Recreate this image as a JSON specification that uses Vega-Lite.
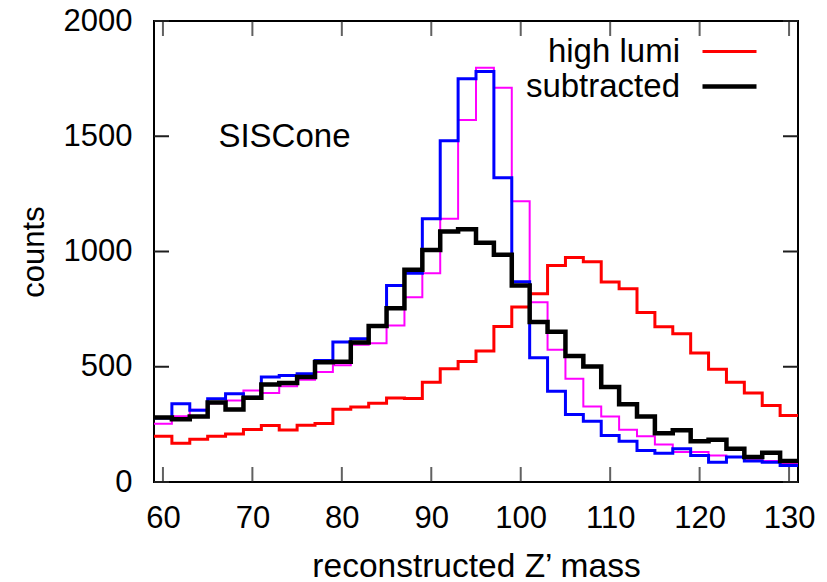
{
  "$schema": "https://vega.github.io/schema/vega-lite/v6.json",
  "width": 644,
  "height": 461,
  "autosize": {"type": "none"},
  "padding": {"left": 154, "top": 21, "right": 29, "bottom": 100},
  "background": "white",
  "config": {
    "view": {"stroke": "black", "strokeWidth": 2},
    "font": "Liberation Sans",
    "axis": {
      "grid": false,
      "domain": false,
      "labelFont": "Liberation Sans",
      "labelFontSize": 31,
      "labelColor": "black",
      "labelOverlap": false,
      "labelFlush": false,
      "titleFont": "Liberation Sans",
      "titleFontSize": 31,
      "titleFontWeight": "normal",
      "titleColor": "black"
    },
    "legend": {
      "labelFont": "Liberation Sans",
      "labelFontSize": 33,
      "labelColor": "black"
    }
  },
  "datasets": {
    "hist": [
      {"m": 59, "high lumi": 198, "subtracted": 280, "no pileup": 278, "low lumi": 253},
      {"m": 61, "high lumi": 168, "subtracted": 272, "no pileup": 340, "low lumi": 285},
      {"m": 63, "high lumi": 185, "subtracted": 284, "no pileup": 311, "low lumi": 313},
      {"m": 65, "high lumi": 198, "subtracted": 345, "no pileup": 361, "low lumi": 342},
      {"m": 67, "high lumi": 208, "subtracted": 315, "no pileup": 383, "low lumi": 354},
      {"m": 69, "high lumi": 228, "subtracted": 366, "no pileup": 368, "low lumi": 397},
      {"m": 71, "high lumi": 245, "subtracted": 423, "no pileup": 455, "low lumi": 386},
      {"m": 73, "high lumi": 226, "subtracted": 429, "no pileup": 462, "low lumi": 415},
      {"m": 75, "high lumi": 246, "subtracted": 455, "no pileup": 470, "low lumi": 444},
      {"m": 77, "high lumi": 254, "subtracted": 520, "no pileup": 527, "low lumi": 477},
      {"m": 79, "high lumi": 316, "subtracted": 522, "no pileup": 607, "low lumi": 506},
      {"m": 81, "high lumi": 325, "subtracted": 605, "no pileup": 621, "low lumi": 595},
      {"m": 83, "high lumi": 342, "subtracted": 677, "no pileup": 679, "low lumi": 602},
      {"m": 85, "high lumi": 364, "subtracted": 754, "no pileup": 853, "low lumi": 679},
      {"m": 87, "high lumi": 362, "subtracted": 921, "no pileup": 906, "low lumi": 802},
      {"m": 89, "high lumi": 433, "subtracted": 1007, "no pileup": 1142, "low lumi": 906},
      {"m": 91, "high lumi": 491, "subtracted": 1087, "no pileup": 1481, "low lumi": 1142},
      {"m": 93, "high lumi": 523, "subtracted": 1096, "no pileup": 1749, "low lumi": 1571},
      {"m": 95, "high lumi": 568, "subtracted": 1038, "no pileup": 1781, "low lumi": 1797},
      {"m": 97, "high lumi": 675, "subtracted": 986, "no pileup": 1320, "low lumi": 1710},
      {"m": 99, "high lumi": 759, "subtracted": 853, "no pileup": 869, "low lumi": 1218},
      {"m": 101, "high lumi": 817, "subtracted": 694, "no pileup": 539, "low lumi": 780},
      {"m": 103, "high lumi": 939, "subtracted": 652, "no pileup": 394, "low lumi": 574},
      {"m": 105, "high lumi": 974, "subtracted": 547, "no pileup": 293, "low lumi": 448},
      {"m": 107, "high lumi": 955, "subtracted": 501, "no pileup": 264, "low lumi": 328},
      {"m": 109, "high lumi": 868, "subtracted": 412, "no pileup": 202, "low lumi": 284},
      {"m": 111, "high lumi": 838, "subtracted": 337, "no pileup": 177, "low lumi": 227},
      {"m": 113, "high lumi": 735, "subtracted": 284, "no pileup": 137, "low lumi": 198},
      {"m": 115, "high lumi": 673, "subtracted": 212, "no pileup": 125, "low lumi": 163},
      {"m": 117, "high lumi": 643, "subtracted": 224, "no pileup": 144, "low lumi": 130},
      {"m": 119, "high lumi": 560, "subtracted": 177, "no pileup": 115, "low lumi": 130},
      {"m": 121, "high lumi": 489, "subtracted": 183, "no pileup": 86, "low lumi": 115},
      {"m": 123, "high lumi": 433, "subtracted": 144, "no pileup": 108, "low lumi": 108},
      {"m": 125, "high lumi": 386, "subtracted": 108, "no pileup": 91, "low lumi": 94},
      {"m": 127, "high lumi": 332, "subtracted": 127, "no pileup": 86, "low lumi": 91},
      {"m": 129, "high lumi": 289, "subtracted": 91, "no pileup": 72, "low lumi": 79},
      {"m": 131, "high lumi": 289, "subtracted": 91, "no pileup": 72, "low lumi": 79}
    ]
  },
  "data": {"name": "hist"},
  "layer": [
    {
      "mark": {"type": "line", "interpolate": "step-after", "color": "#ff00ff", "strokeWidth": 2},
      "encoding": {
        "x": {
          "field": "m", "type": "quantitative",
          "scale": {"domain": [59, 131], "nice": false, "zero": false},
          "axis": {
            "orient": "bottom",
            "values": [60, 70, 80, 90, 100, 110, 120, 130],
            "ticks": false,
            "tickSize": 0,
            "title": "reconstructed Z’ mass",
            "titleFontSize": 33.5,
            "labelBaseline": "alphabetic",
            "labelPadding": 45,
            "titleY": 94,
            "titleBaseline": "alphabetic",
            "titleAlign": "center",
            "titleAngle": 0
          }
        },
        "y": {
          "field": "low lumi", "type": "quantitative",
          "scale": {"domain": [0, 2000], "nice": false},
          "axis": {
            "orient": "left",
            "values": [0, 500, 1000, 1500, 2000],
            "format": "d",
            "ticks": false,
            "tickSize": 0,
            "title": "counts",
            "labelPadding": 22,
            "titleX": -111,
            "titleY": 230.5,
            "titleAngle": -90,
            "titleBaseline": "alphabetic",
            "titleAlign": "center"
          }
        }
      }
    },
    {
      "mark": {"type": "line", "interpolate": "step-after", "color": "#0000ff", "strokeWidth": 3},
      "encoding": {
        "x": {"field": "m", "type": "quantitative"},
        "y": {"field": "no pileup", "type": "quantitative"}
      }
    },
    {
      "transform": [{"fold": ["high lumi", "subtracted"], "as": ["s", "n"]}],
      "mark": {"type": "line", "interpolate": "step-after"},
      "encoding": {
        "x": {"field": "m", "type": "quantitative"},
        "y": {"field": "n", "type": "quantitative"},
        "color": {
          "field": "s", "type": "nominal",
          "scale": {"domain": ["high lumi", "subtracted"], "range": ["#ff0000", "#000000"]},
          "legend": {
            "orient": "none",
            "legendX": 558,
            "legendY": 14,
            "title": null,
            "symbolType": "M-1.8,0H1.8",
            "symbolSize": 900,
            "labelAlign": "right",
            "labelOffset": -67,
            "padding": 0,
            "rowPadding": 0,
            "encode": {
              "symbols": {
                "update": {
                  "strokeWidth": [{"test": "datum.value === 'subtracted'", "value": 4.5}, {"value": 3}]
                }
              }
            }
          }
        },
        "strokeWidth": {
          "field": "s", "type": "nominal",
          "scale": {"domain": ["high lumi", "subtracted"], "range": [3, 4.5]},
          "legend": null
        }
      }
    },
    {
      "data": {"values": [{}]},
      "mark": {"type": "text", "text": "SISCone", "align": "left", "baseline": "alphabetic", "fontSize": 33, "font": "Liberation Sans", "color": "black"},
      "encoding": {
        "x": {"datum": 66.2, "type": "quantitative"},
        "y": {"datum": 1452, "type": "quantitative"}
      }
    },
    {
      "data": {"values": [{"v": 60}, {"v": 70}, {"v": 80}, {"v": 90}, {"v": 100}, {"v": 110}, {"v": 120}, {"v": 130}]},
      "mark": {"type": "tick", "orient": "vertical", "size": 15, "thickness": 2, "color": "#1e1e1e"},
      "encoding": {
        "x": {"field": "v", "type": "quantitative"},
        "y": {"datum": 32.5, "type": "quantitative"}
      }
    },
    {
      "data": {"values": [{"v": 60}, {"v": 70}, {"v": 80}, {"v": 90}, {"v": 100}, {"v": 110}, {"v": 120}, {"v": 130}]},
      "mark": {"type": "tick", "orient": "vertical", "size": 15, "thickness": 2, "color": "#1e1e1e"},
      "encoding": {
        "x": {"field": "v", "type": "quantitative"},
        "y": {"datum": 1967.5, "type": "quantitative"}
      }
    },
    {
      "data": {"values": [{"v": 0}, {"v": 500}, {"v": 1000}, {"v": 1500}, {"v": 2000}]},
      "mark": {"type": "rule", "color": "#1e1e1e", "strokeWidth": 2},
      "encoding": {
        "y": {"field": "v", "type": "quantitative"},
        "x": {"datum": 59, "type": "quantitative"},
        "x2": {"datum": 60.68}
      }
    },
    {
      "data": {"values": [{"v": 0}, {"v": 500}, {"v": 1000}, {"v": 1500}, {"v": 2000}]},
      "mark": {"type": "rule", "color": "#1e1e1e", "strokeWidth": 2},
      "encoding": {
        "y": {"field": "v", "type": "quantitative"},
        "x": {"datum": 131, "type": "quantitative"},
        "x2": {"datum": 129.32}
      }
    }
  ]
}
